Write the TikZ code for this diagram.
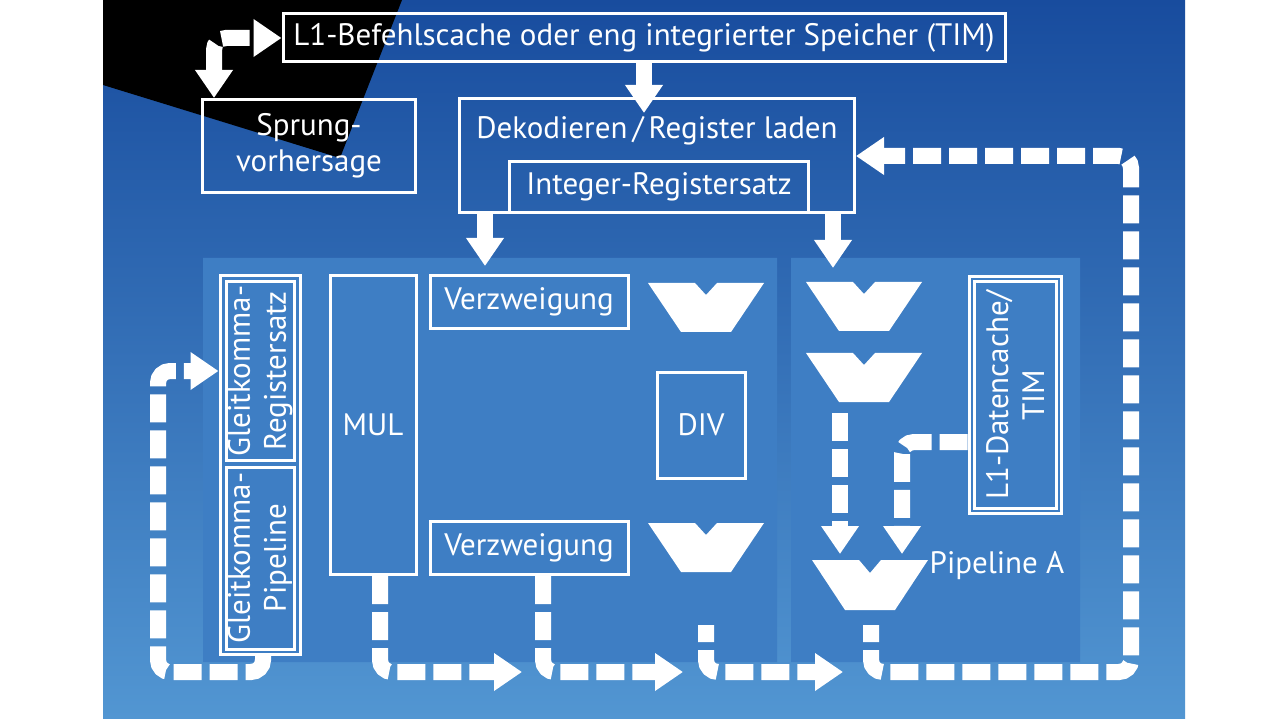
\documentclass[tikz,border=0pt]{standalone}
\usepackage{fontspec}
\setmainfont{PT Sans}
\usepackage{tikz}
\usepackage{xcolor}
\usetikzlibrary{arrows.meta}
\definecolor{bgtop}{RGB}{24,76,158}
\definecolor{bgmid}{RGB}{40,104,184}
\definecolor{bgbot}{RGB}{82,150,210}
\definecolor{panel}{RGB}{62,126,196}

\begin{document}
\begin{tikzpicture}[x=1pt,y=-1pt,>={Triangle[width=36pt,length=28pt]}]
\tikzstyle{box}=[draw=white,line width=3pt,inner sep=0pt,text=white,align=center,font=\fontsize{31}{36}\selectfont];
\tikzstyle{label}=[inner sep=0pt,text=white,align=center,font=\fontsize{31}{36}\selectfont];
\tikzstyle{flow}=[draw=white,line width=16pt,->];
\tikzstyle{dflow}=[flow,dash pattern=on 28pt off 8pt,rounded corners=12pt];
\useasboundingbox (0,0) rectangle (1280,719);
\fill[white] (0,0) rectangle (1280,719);
\shade[top color=bgtop,middle color=bgmid,bottom color=bgbot] (103,0) rectangle (1185,719);
\fill[black] (103,0) -- (402,0) -- (340,158) -- (103,85) -- cycle;
\fill[panel] (203,258) rectangle (777,662) (791,258) rectangle (1080,662);
% boxes
\node[box,minimum width=722pt,minimum height=48pt](l1i) at (644,38) {L1-Befehlscache oder eng integrierter Speicher (TIM)};
\node[box,minimum width=213pt,minimum height=93pt](spr) at (309,146) {Sprung-\\vorhersage};
\node[box,minimum width=395pt,minimum height=114pt](dek) at (657,156) {};
\node[label](dekt) at (657,131) {Dekodieren\,/\,Register laden};
\node[box,minimum width=299pt,minimum height=51pt](irs) at (659,187) {Integer-Registersatz};
\node[box,minimum width=80pt,minimum height=379pt](gk) at (260,465) {};
\node[box,rotate=90,minimum width=179pt,minimum height=68pt](gr) at (260,371) {Gleitkomma-\\Registersatz};
\node[box,rotate=90,minimum width=182pt,minimum height=68pt](gp) at (260,558) {Gleitkomma-\\Pipeline};
\node[box,minimum width=86pt,minimum height=299pt](mul) at (373,425) {MUL};
\node[box,minimum width=198pt,minimum height=53pt](vz1) at (529,302) {Verzweigung};
\node[box,minimum width=198pt,minimum height=53pt](vz2) at (529,548) {Verzweigung};
\node[box,minimum width=88pt,minimum height=106pt](div) at (701,425) {DIV};
\node[box,minimum width=92pt,minimum height=236pt](l1d) at (1015,395) {};
\node[box,rotate=90,minimum width=226pt,minimum height=82pt](l1dt) at (1015,395) {L1-Datencache/\\TIM};
\node[label](pa) at (997,566) {Pipeline A};
% ALUs
\fill[white] (648,283) -- ++(47,0) -- ++(11,12) -- ++(11,-12) -- ++(47,0) -- ++(-33,49) -- ++(-50,0) -- cycle
  (648,523) -- ++(47,0) -- ++(11,12) -- ++(11,-12) -- ++(47,0) -- ++(-33,49) -- ++(-50,0) -- cycle
  (806,282) -- ++(47,0) -- ++(11,12) -- ++(11,-12) -- ++(47,0) -- ++(-33,49) -- ++(-50,0) -- cycle
  (806,353) -- ++(47,0) -- ++(11,12) -- ++(11,-12) -- ++(47,0) -- ++(-33,49) -- ++(-50,0) -- cycle
  (812,560) -- ++(47,0) -- ++(11,13) -- ++(11,-13) -- ++(47,0) -- ++(-33,50) -- ++(-50,0) -- cycle;
% arrow ends
\coordinate (t1) at (644,113);
\coordinate (t2) at (485,266);
\coordinate (t3) at (833,268);
\coordinate (t4) at (840,554);
\coordinate (t5) at (902,554);
\coordinate (a2) at (706,625);
\coordinate (a4) at (840,413);
\coordinate (a5) at (871,625);
\coordinate (b0) at (158,672);
\coordinate (b1) at (1131,672);
\coordinate (e1) at (522,672);
\coordinate (e2) at (683,672);
\coordinate (e3) at (843,672);
\coordinate (c0) at (214,37);
% solid arrows
\draw[flow](l1i)--(t1);
\draw[flow](dek.south -| t2)--(t2);
\draw[flow](dek.south -| t3)--(t3);
% dashed arrows
\draw[dflow,<->](spr.north -| c0)|-(l1i.west);
\draw[dflow]([xshift=3pt]gk.south)|-(b0)|-(gk.west |- gr.center);
\draw[dflow]([xshift=7pt]mul.south)|-(e1);
\draw[dflow]([xshift=14pt]vz2.south)|-(e2);
\draw[dflow,dash phase=11pt](a2)|-(e3);
\draw[dflow,dash phase=11pt](a5)|-(b1)|-(dek.east);
\draw[dflow](a4)--(t4);
\draw[dflow]([yshift=-47pt]l1d.west)-|(t5);
\end{tikzpicture}
\end{document}
